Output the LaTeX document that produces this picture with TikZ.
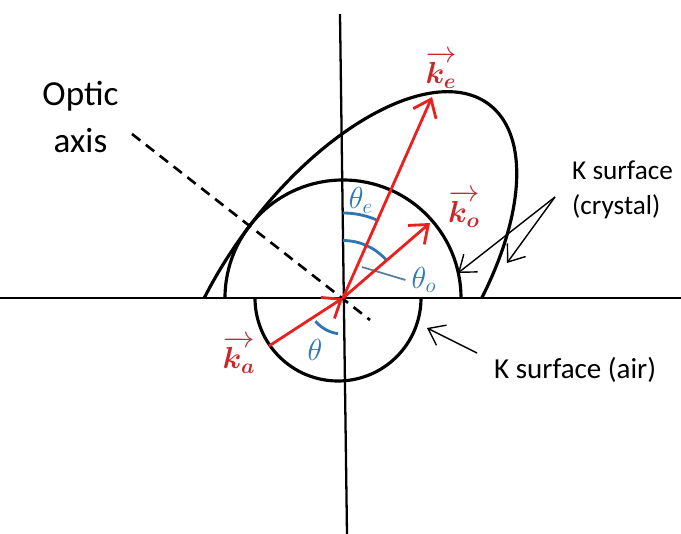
\documentclass[tikz,border=0pt]{standalone}
\usepackage{amsmath,bm}
\usepackage{fontspec}
\setmainfont{Carlito}
\usetikzlibrary{arrows.meta}
\definecolor{vecred}{HTML}{E8201E}
\definecolor{labred}{HTML}{C9282B}
\definecolor{angblue}{HTML}{2E75B6}
\definecolor{leadgray}{HTML}{5A7D9A}

\begin{document}
\begin{tikzpicture}[line join=round,every node/.style={font=\fontsize{15.5}{20}\selectfont},
    surf/.style={black,line width=1.8pt},
    axisline/.style={black,line width=1.3pt},
    kvec/.style={vecred,line width=1.6pt,-{Straight Barb[length=3.2mm,width=5mm,line width=1.6pt]}},
    pointer/.style={black,line width=0.8pt,-{Straight Barb[length=3mm,width=4.5mm,line width=0.8pt]}},
    angarc/.style={angblue,line width=1.6pt},
    mathlab/.style={font=\fontsize{17}{20}\selectfont}]
  \useasboundingbox (-6.86,-4.72) rectangle (6.76,5.96);
  \coordinate (O) at (0,0);
  % axes and optic axis
  \draw[axisline] (-0.06,5.68) -- (0.08,-4.72);
  \draw[axisline] (-6.86,0) -- (6.76,0);
  \coordinate (oa1) at (-4.22,3.28);
  \coordinate (oa2) at (0.54,-0.44);
  \draw[black,line width=1.5pt,dash pattern=on 6pt off 4pt] (oa1) -- (oa2);
  \node[font=\fontsize{20}{27}\selectfont,align=center] (optic) at (-5.25,3.62) {Optic\\axis};
  % K surfaces
  \begin{scope}
    \clip (-6,0) rectangle (6,5.5);
    \draw[surf,rotate=53] (O) ellipse (4.85 and 2.36);
  \end{scope}
  \draw[surf] (2.36,0) arc (0:180:2.36);
  \draw[surf] (1.56,0) arc (0:-180:1.66);
  % angles
  \draw[angarc] (220:0.72) arc (220:262:0.72);
  \draw[angarc] (90:1.7) arc (90:67:1.7);
  \draw[angarc] (90:1.15) arc (90:41:1.15);
  \node[mathlab,text=angblue] (theta) at (-0.56,-1.04) {$\theta$};
  \node[mathlab,text=angblue] (thetae) at (0.36,1.95) {$\theta_e$};
  \node[mathlab,text=angblue] (thetao) at (1.62,0.36) {$\theta_o$};
  \coordinate (olead) at (0.38,0.62);
  \draw[leadgray,line width=1pt] (olead) -- (thetao.west);
  % wave vectors
  \coordinate (ke) at (1.78,4.02);
  \coordinate (ko) at (1.74,1.50);
  \coordinate (ka) at (-1.48,-0.96);
  \draw[kvec] (O) -- (ke);
  \draw[kvec] (O) -- (ko);
  \draw[kvec] (ka) -- (O);
  \node[mathlab,text=labred] (kelab) at (1.96,4.56) {$\overrightarrow{\bm{k}_{\bm{e}}}$};
  \node[mathlab,text=labred] (kolab) at (2.42,1.78) {$\overrightarrow{\bm{k}_{\bm{o}}}$};
  \node[mathlab,text=labred] (kalab) at (-2.08,-1.14) {$\overrightarrow{\bm{k}_{\bm{a}}}$};
  % labels with pointers
  \node[anchor=west,align=left] (kcrys) at (4.46,2.16) {K surface\\(crystal)};
  \coordinate (kcrysfrom) at (4.24,2.02);
  \coordinate (kcircle) at (2.30,0.50);
  \coordinate (kellipse) at (3.28,0.70);
  \draw[pointer] (kcrysfrom) -- (kcircle);
  \draw[pointer] (kcrysfrom) -- (kellipse);
  \node[anchor=west,font=\fontsize{16.5}{20}\selectfont] (kair) at (2.9,-1.44) {K surface (air)};
  \coordinate (kairfrom) at (2.68,-1.10);
  \coordinate (kairto) at (1.68,-0.60);
  \draw[pointer] (kairfrom) -- (kairto);
\end{tikzpicture}
\end{document}
